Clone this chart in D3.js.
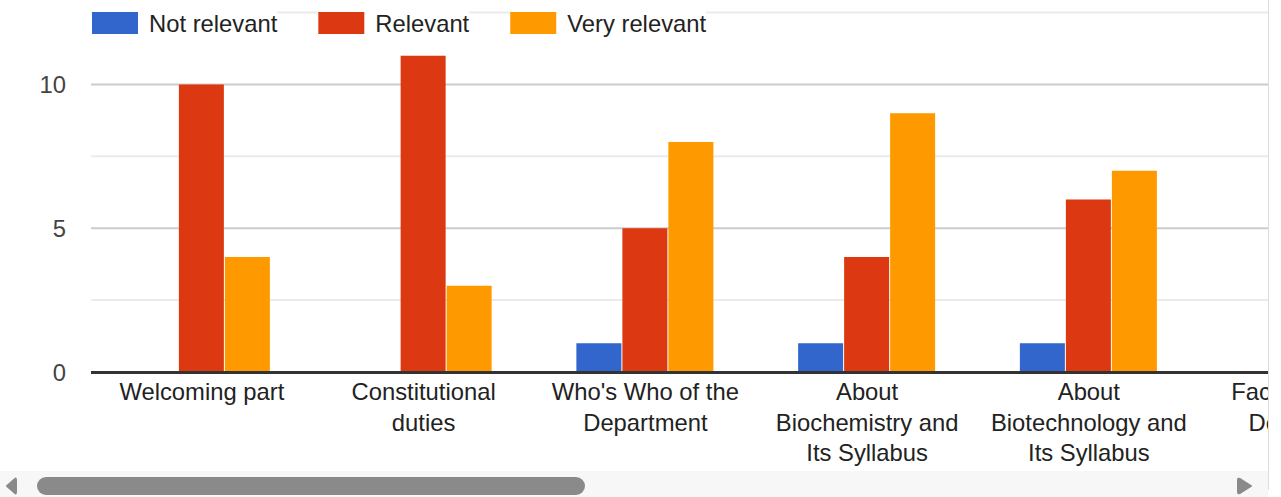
<!DOCTYPE html>
<html><head><meta charset="utf-8">
<script src="https://cdn.jsdelivr.net/npm/d3@7"></script>
<style>
html,body{margin:0;padding:0;background:#fff;overflow:hidden}
text{font-family:Arial,"Liberation Sans",sans-serif}
</style></head>
<body>
<svg id="c" width="1281" height="497"></svg>
<script>
const categories = ["Welcoming part","Constitutional duties","Who's Who of the Department","About Biochemistry and Its Syllabus","About Biotechnology and Its Syllabus","Facilities of the Department"];
const seriesNames = ["Not relevant","Relevant","Very relevant"];
const notRelevant = [0,0,1,1,1,0];
const relevant = [10,11,5,4,6,5];
const veryRelevant = [4,3,8,9,7,8];
const yTicks = [0,5,10];
const yGrid = [0,2.5,5,7.5,10,12.5];
const colors = ["#3366cc","#dc3912","#ff9900"];
const values = [notRelevant, relevant, veryRelevant];

const svg = d3.select("#c");
const FS = 23.8;
const viewW = 1268;
const plotL = 91;
const step = 221.75;

const x = d3.scaleBand().domain(categories).range([plotL, plotL + step*categories.length]).padding(0);
const xs = d3.scaleBand().domain(seriesNames).range([0,138]).paddingInner(0.0);
const y = d3.scaleLinear().domain([0,12.5]).range([372,12.6]);

svg.append("defs").append("clipPath").attr("id","vc").append("rect")
  .attr("x",0).attr("y",0).attr("width",viewW).attr("height",470);
const g = svg.append("g").attr("clip-path","url(#vc)");

// grid
g.selectAll("line.grid").data(yGrid.filter(d=>d>0)).enter().append("line")
  .attr("x1",plotL).attr("x2",viewW).attr("y1",d=>y(d)).attr("y2",d=>y(d))
  .attr("stroke",d=>d%5===0?"#cccccc":"#ebebeb").attr("stroke-width",2);

// bars
const groups = g.selectAll("g.cat").data(categories).enter().append("g")
  .attr("transform",d=>`translate(${x(d)+x.bandwidth()/2-69.5},0)`);
groups.selectAll("rect").data((d,i)=>seriesNames.map((s,j)=>({s,v:values[j][i],c:colors[j]})))
  .enter().append("rect")
  .attr("x",d=>xs(d.s)+0.5).attr("width",xs.bandwidth()-1)
  .attr("y",d=>y(d.v)).attr("height",d=>Math.max(0,y(0)-y(d.v)-1))
  .attr("fill",d=>d.c).style("display",d=>d.v>0?null:"none");

// baseline
g.append("line").attr("x1",plotL).attr("x2",viewW).attr("y1",372.5).attr("y2",372.5)
  .attr("stroke","#333333").attr("stroke-width",3);

// y tick labels
svg.selectAll("text.yt").data(yTicks).enter().append("text")
  .attr("x",66).attr("y",d=>y(d)).attr("dy","0.36em").attr("text-anchor","end")
  .attr("fill","#444444").attr("font-size",FS).text(d=>d);

// x labels with wrap
const maxW = 200;
const lab = g.selectAll("text.xl").data(categories).enter().append("text")
  .attr("text-anchor","middle").attr("fill","#222222").attr("font-size",FS)
  .attr("x",d=>x(d)+x.bandwidth()/2).attr("y",400);
lab.each(function(d){
  const t = d3.select(this);
  const words = d.split(" ");
  let lines=[], cur=[];
  const tmp = t.append("tspan");
  words.forEach(w=>{
    const trial = cur.concat([w]).join(" ");
    tmp.text(trial);
    if(tmp.node().getComputedTextLength()>maxW && cur.length){lines.push(cur.join(" ")); cur=[w];}
    else cur.push(w);
  });
  lines.push(cur.join(" "));
  tmp.remove();
  lines.forEach((l,i)=>t.append("tspan").attr("x",x(d)+x.bandwidth()/2).attr("dy",i?30.5:0).text(l));
});

// legend
let lx = 92;
seriesNames.forEach((s,i)=>{
  const lg = svg.append("g");
  const bg = lg.append("rect").attr("y",8).attr("height",30).attr("fill","#fff");
  lg.append("rect").attr("x",lx).attr("y",12).attr("width",46).attr("height",22).attr("fill",colors[i]);
  const t = lg.append("text").attr("x",lx+57).attr("y",23).attr("dy","0.36em")
    .attr("fill","#222222").attr("font-size",FS).text(s);
  const w = t.node().getComputedTextLength();
  bg.attr("x",lx).attr("width",57+w);
  lx = lx + 57 + w + 41;
});

// right border
svg.append("line").attr("x1",viewW+0.5).attr("x2",viewW+0.5).attr("y1",0).attr("y2",490)
  .attr("stroke","#dddddd").attr("stroke-width",1);

// scrollbar
svg.append("rect").attr("x",0).attr("y",471).attr("width",viewW).attr("height",26).attr("fill","#f7f7f7");
svg.append("rect").attr("x",37).attr("y",477).attr("width",548).attr("height",18).attr("rx",9).attr("fill","#8a8a8a");
svg.append("path").attr("d","M7,486 L15,479 Q16,478 16,480 L16,492 Q16,494 15,493 Z").attr("fill","#8a8a8a")
  .attr("stroke","#8a8a8a").attr("stroke-width",2).attr("stroke-linejoin","round");
svg.append("path").attr("d","M1251,486 L1240,479 Q1238,478 1238,480 L1238,492 Q1238,494 1240,493 Z").attr("fill","#8a8a8a")
  .attr("stroke","#8a8a8a").attr("stroke-width",2).attr("stroke-linejoin","round");
</script>
</body></html>
